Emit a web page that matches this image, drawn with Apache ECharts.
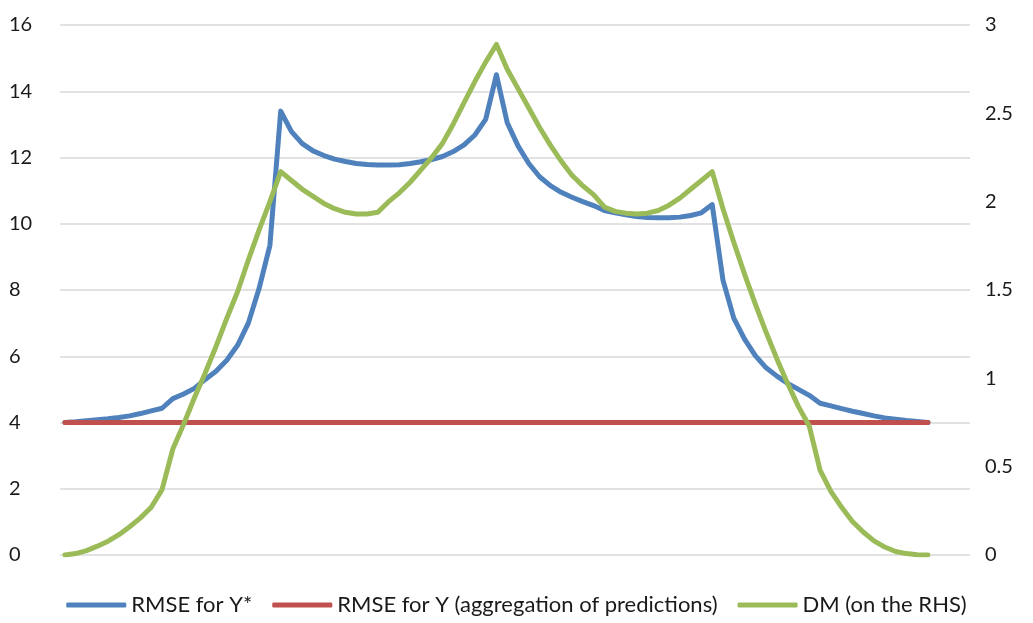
<!DOCTYPE html>
<html>
<head>
<meta charset="utf-8">
<script src="https://cdn.jsdelivr.net/npm/echarts@6/dist/echarts.min.js"></script>
<style>
html,body{margin:0;padding:0;background:#fff;}
#chart{width:1033px;height:623px;}
</style>
</head>
<body>
<div id="chart"></div>
<script>
const seriesNames = ['RMSE for Y*', 'RMSE for Y (aggregation of predictions)', 'DM (on the RHS)'];

const rmseYStar = [
  4.00, 4.02, 4.05, 4.08, 4.11, 4.15, 4.20, 4.27, 4.35, 4.43,
  4.72, 4.86, 5.03, 5.30, 5.55, 5.88, 6.33, 7.00, 8.05, 9.35,
  13.40, 12.78, 12.42, 12.20, 12.06, 11.95, 11.88, 11.82, 11.79, 11.77,
  11.77, 11.78, 11.82, 11.87, 11.94, 12.03, 12.18, 12.38, 12.68, 13.15,
  14.50, 13.05, 12.35, 11.82, 11.42, 11.15, 10.95, 10.80, 10.67, 10.55,
  10.40, 10.33, 10.27, 10.22, 10.19, 10.18, 10.18, 10.20, 10.25, 10.33,
  10.58, 8.30, 7.15, 6.52, 6.02, 5.65, 5.40, 5.18, 5.00, 4.82,
  4.58, 4.50, 4.42, 4.34, 4.27, 4.20, 4.14, 4.10, 4.06, 4.03,
  4.00
];

const rmseY = [
  4, 4, 4, 4, 4, 4, 4, 4, 4, 4,
  4, 4, 4, 4, 4, 4, 4, 4, 4, 4,
  4, 4, 4, 4, 4, 4, 4, 4, 4, 4,
  4, 4, 4, 4, 4, 4, 4, 4, 4, 4,
  4, 4, 4, 4, 4, 4, 4, 4, 4, 4,
  4, 4, 4, 4, 4, 4, 4, 4, 4, 4,
  4, 4, 4, 4, 4, 4, 4, 4, 4, 4,
  4, 4, 4, 4, 4, 4, 4, 4, 4, 4,
  4
];

const dm = [
  0.00, 0.008, 0.025, 0.05, 0.078, 0.115, 0.16, 0.21, 0.27, 0.37,
  0.60, 0.74, 0.89, 1.03, 1.18, 1.34, 1.49, 1.67, 1.84, 2.00,
  2.17, 2.12, 2.07, 2.03, 1.99, 1.96, 1.94, 1.93, 1.93, 1.94,
  2.00, 2.05, 2.11, 2.18, 2.25, 2.33, 2.44, 2.56, 2.68, 2.79,
  2.89, 2.75, 2.64, 2.53, 2.42, 2.32, 2.23, 2.15, 2.09, 2.04,
  1.97, 1.945, 1.935, 1.93, 1.935, 1.95, 1.98, 2.02, 2.07, 2.12,
  2.17, 1.96, 1.77, 1.59, 1.42, 1.26, 1.11, 0.97, 0.84, 0.73,
  0.48, 0.36, 0.27, 0.19, 0.13, 0.08, 0.045, 0.02, 0.008, 0.002,
  0.00
];

const leftTicks = { min: 0, max: 16, interval: 2 };
const rightTicks = { min: 0, max: 3, interval: 0.5 };

const toPairs = arr => arr.map((v, i) => [i, v]);

const chart = echarts.init(document.getElementById('chart'), null, { renderer: 'canvas' });
const fontFamily = 'Lato, "Open Sans", sans-serif';
const lineStyle = (color) => ({ color: color, width: 5, cap: 'round', join: 'round' });

chart.setOption({
  animation: false,
  backgroundColor: '#ffffff',
  textStyle: { fontFamily: fontFamily },
  grid: { left: 60, right: 63, top: 25, bottom: 68, containLabel: false },
  legend: {
    bottom: 2,
    left: 'center',
    icon: 'roundRect',
    itemWidth: 60,
    itemHeight: 5,
    itemGap: 20,
    textStyle: { fontFamily: fontFamily, fontSize: 22, color: '#1a1a1a' },
    data: seriesNames
  },
  xAxis: {
    type: 'value',
    min: -0.46,
    max: 83.9,
    axisLine: { show: false },
    axisTick: { show: false },
    axisLabel: { show: false },
    splitLine: { show: false }
  },
  yAxis: [
    {
      type: 'value',
      min: leftTicks.min, max: leftTicks.max, interval: leftTicks.interval,
      axisLine: { show: false },
      axisTick: { show: false },
      axisLabel: { align: 'left', margin: 51, fontSize: 20, color: '#1a1a1a', fontFamily: fontFamily },
      splitLine: { show: true, lineStyle: { color: '#d9d9d9', width: 1.5 } }
    },
    {
      type: 'value',
      position: 'right',
      min: rightTicks.min, max: rightTicks.max, interval: rightTicks.interval,
      axisLine: { show: false },
      axisTick: { show: false },
      axisLabel: { align: 'left', margin: 15, fontSize: 20, color: '#1a1a1a', fontFamily: fontFamily },
      splitLine: { show: false }
    }
  ],
  series: [
    {
      name: seriesNames[0], type: 'line', yAxisIndex: 0,
      data: toPairs(rmseYStar), showSymbol: false, symbol: 'none',
      lineStyle: lineStyle('#4f81bd'), itemStyle: { color: '#4f81bd' }, z: 2
    },
    {
      name: seriesNames[1], type: 'line', yAxisIndex: 0,
      data: toPairs(rmseY), showSymbol: false, symbol: 'none',
      lineStyle: lineStyle('#c0504d'), itemStyle: { color: '#c0504d' }, z: 3
    },
    {
      name: seriesNames[2], type: 'line', yAxisIndex: 1,
      data: toPairs(dm), showSymbol: false, symbol: 'none',
      lineStyle: lineStyle('#9bbb59'), itemStyle: { color: '#9bbb59' }, z: 4
    }
  ]
});
</script>
</body>
</html>
